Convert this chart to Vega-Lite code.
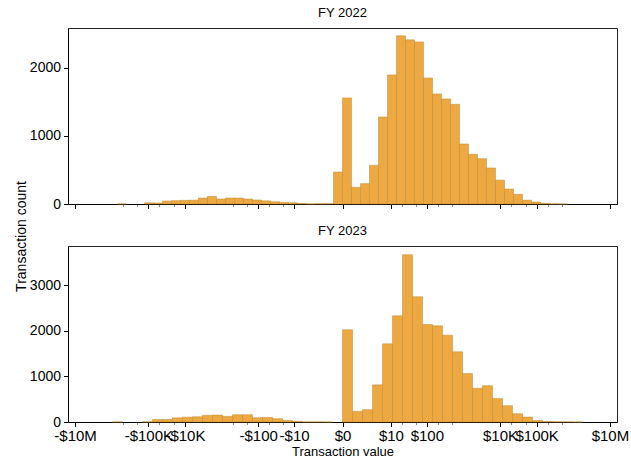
{
  "$schema": "https://vega.github.io/schema/vega-lite/v6.json",
  "padding": {"left": 13, "top": 6, "right": 5, "bottom": 5},
  "bounds": "flush",
  "config": {
    "font": "Liberation Sans",
    "view": {"stroke": "#222222", "strokeWidth": 1},
    "axis": {"grid": false, "domainColor": "#000000", "tickColor": "#000000", "labelColor": "#000000", "titleColor": "#000000", "labelFont": "Liberation Sans", "titleFont": "Liberation Sans", "titleFontWeight": "normal"},
    "title": {"font": "Liberation Sans", "fontSize": 13, "fontWeight": "normal", "color": "#000000", "offset": 8}
  },
  "datasets": {
    "fy22": [
      {"bin_start": -694586, "bin_end": -394471.5, "count": 2},
      {"bin_start": -127231.5, "bin_end": -72257.5, "count": 17},
      {"bin_start": -72257.5, "bin_end": -41036.5, "count": 15},
      {"bin_start": -41036.5, "bin_end": -23305.5, "count": 44},
      {"bin_start": -23305.5, "bin_end": -13235.5, "count": 49},
      {"bin_start": -13235.5, "bin_end": -7516.5, "count": 54},
      {"bin_start": -7516.5, "bin_end": -4268.7, "count": 56},
      {"bin_start": -4268.7, "bin_end": -2424.1, "count": 88},
      {"bin_start": -2424.1, "bin_end": -1376.5, "count": 110},
      {"bin_start": -1376.5, "bin_end": -781.5, "count": 74},
      {"bin_start": -781.5, "bin_end": -443.6, "count": 88},
      {"bin_start": -443.6, "bin_end": -251.72, "count": 88},
      {"bin_start": -251.72, "bin_end": -142.74, "count": 74},
      {"bin_start": -142.74, "bin_end": -80.85, "count": 59},
      {"bin_start": -80.85, "bin_end": -45.7, "count": 47},
      {"bin_start": -45.7, "bin_end": -25.74, "count": 34},
      {"bin_start": -25.74, "bin_end": -14.4, "count": 24},
      {"bin_start": -14.4, "bin_end": -7.963, "count": 18},
      {"bin_start": -7.963, "bin_end": -4.3063, "count": 9},
      {"bin_start": -4.3063, "bin_end": -2.2296, "count": 2},
      {"bin_start": -2.2296, "bin_end": -1.0502, "count": 5},
      {"bin_start": -1.0502, "bin_end": -0.3804, "count": 5},
      {"bin_start": -0.3804, "bin_end": 0, "count": 470},
      {"bin_start": 0, "bin_end": 0.3804, "count": 1558},
      {"bin_start": 0.3804, "bin_end": 1.0502, "count": 245},
      {"bin_start": 1.0502, "bin_end": 2.2296, "count": 299},
      {"bin_start": 2.2296, "bin_end": 4.3063, "count": 568},
      {"bin_start": 4.3063, "bin_end": 7.963, "count": 1279},
      {"bin_start": 7.963, "bin_end": 14.4, "count": 1896},
      {"bin_start": 14.4, "bin_end": 25.74, "count": 2470},
      {"bin_start": 25.74, "bin_end": 45.7, "count": 2411},
      {"bin_start": 45.7, "bin_end": 80.85, "count": 2381},
      {"bin_start": 80.85, "bin_end": 142.74, "count": 1852},
      {"bin_start": 142.74, "bin_end": 251.72, "count": 1617},
      {"bin_start": 251.72, "bin_end": 443.6, "count": 1544},
      {"bin_start": 443.6, "bin_end": 781.5, "count": 1465},
      {"bin_start": 781.5, "bin_end": 1376.5, "count": 882},
      {"bin_start": 1376.5, "bin_end": 2424.1, "count": 730},
      {"bin_start": 2424.1, "bin_end": 4268.7, "count": 666},
      {"bin_start": 4268.7, "bin_end": 7516.5, "count": 529},
      {"bin_start": 7516.5, "bin_end": 13235.5, "count": 350},
      {"bin_start": 13235.5, "bin_end": 23305.5, "count": 220},
      {"bin_start": 23305.5, "bin_end": 41036.5, "count": 142},
      {"bin_start": 41036.5, "bin_end": 72257.5, "count": 56},
      {"bin_start": 72257.5, "bin_end": 127231.5, "count": 29},
      {"bin_start": 127231.5, "bin_end": 224029.5, "count": 10},
      {"bin_start": 224029.5, "bin_end": 394471.5, "count": 3},
      {"bin_start": 394471.5, "bin_end": 694586, "count": 1}
    ],
    "fy23": [
      {"bin_start": -952616, "bin_end": -508014, "count": 3},
      {"bin_start": -144475, "bin_end": -77046, "count": 5},
      {"bin_start": -77046, "bin_end": -41087, "count": 55},
      {"bin_start": -41087, "bin_end": -21911, "count": 55},
      {"bin_start": -21911, "bin_end": -11684.5, "count": 92},
      {"bin_start": -11684.5, "bin_end": -6231, "count": 106},
      {"bin_start": -6231, "bin_end": -3322.6, "count": 115},
      {"bin_start": -3322.6, "bin_end": -1771.7, "count": 146},
      {"bin_start": -1771.7, "bin_end": -944.6, "count": 153},
      {"bin_start": -944.6, "bin_end": -503.49, "count": 124},
      {"bin_start": -503.49, "bin_end": -268.27, "count": 160},
      {"bin_start": -268.27, "bin_end": -142.83, "count": 160},
      {"bin_start": -142.83, "bin_end": -75.935, "count": 95},
      {"bin_start": -75.935, "bin_end": -40.262, "count": 102},
      {"bin_start": -40.262, "bin_end": -21.238, "count": 73},
      {"bin_start": -21.238, "bin_end": -11.092, "count": 37},
      {"bin_start": -11.092, "bin_end": -5.682, "count": 15},
      {"bin_start": -5.682, "bin_end": -2.7968, "count": 3},
      {"bin_start": -2.7968, "bin_end": -1.2581, "count": 3},
      {"bin_start": -1.2581, "bin_end": -0.4376, "count": 2},
      {"bin_start": 0, "bin_end": 0.4376, "count": 2022},
      {"bin_start": 0.4376, "bin_end": 1.2581, "count": 234},
      {"bin_start": 1.2581, "bin_end": 2.7968, "count": 271},
      {"bin_start": 2.7968, "bin_end": 5.682, "count": 815},
      {"bin_start": 5.682, "bin_end": 11.092, "count": 1715},
      {"bin_start": 11.092, "bin_end": 21.238, "count": 2328},
      {"bin_start": 21.238, "bin_end": 40.262, "count": 3669},
      {"bin_start": 40.262, "bin_end": 75.935, "count": 2747},
      {"bin_start": 75.935, "bin_end": 142.83, "count": 2138},
      {"bin_start": 142.83, "bin_end": 268.27, "count": 2109},
      {"bin_start": 268.27, "bin_end": 503.49, "count": 1904},
      {"bin_start": 503.49, "bin_end": 944.6, "count": 1540},
      {"bin_start": 944.6, "bin_end": 1771.7, "count": 1062},
      {"bin_start": 1771.7, "bin_end": 3322.6, "count": 740},
      {"bin_start": 3322.6, "bin_end": 6231, "count": 796},
      {"bin_start": 6231, "bin_end": 11684.5, "count": 515},
      {"bin_start": 11684.5, "bin_end": 21911, "count": 358},
      {"bin_start": 21911, "bin_end": 41087, "count": 182},
      {"bin_start": 41087, "bin_end": 77046, "count": 109},
      {"bin_start": 77046, "bin_end": 144475, "count": 34},
      {"bin_start": 144475, "bin_end": 270916, "count": 12},
      {"bin_start": 270916, "bin_end": 508014, "count": 6},
      {"bin_start": 508014, "bin_end": 952616, "count": 5},
      {"bin_start": 952616, "bin_end": 1786319, "count": 2}
    ]
  },
  "spacing": 42,
  "vconcat": [
    {
      "title": {"text": "FY 2022"},
      "width": 549,
      "height": 176,
      "data": {"name": "fy22"},
      "mark": {"type": "rect", "color": "#EEA842", "stroke": "#B8862E", "strokeWidth": 0.6, "strokeOpacity": 0.8},
      "encoding": {
        "x": {
          "field": "bin_start", "type": "quantitative",
          "scale": {"type": "symlog", "constant": 0.5, "domain": [-15600000, 15600000], "nice": false, "zero": false},
          "axis": {
            "title": null, "labels": false,
            "values": [-10000000, -500000, -200000, -100000, -50000, -20000, -10000, -500, -200, -100, -50, -20, -10, 0, 10, 20, 50, 100, 200, 500, 10000, 20000, 50000, 100000, 200000, 500000, 10000000],
            "tickSize": {"condition": {"test": "indexof([20,50,200,500,20000,50000,200000,500000], abs(datum.value)) >= 0", "value": 2.5}, "value": 4.5},
            "tickColor": {"condition": {"test": "indexof([20,50,200,500,20000,50000,200000,500000], abs(datum.value)) >= 0", "value": "#888888"}, "value": "#000000"}
          }
        },
        "x2": {"field": "bin_end"},
        "y": {
          "field": "count", "type": "quantitative",
          "scale": {"domain": [0, 2585], "nice": false},
          "axis": {"values": [0, 1000, 2000], "format": "d", "tickSize": 4.5, "labelFontSize": 14, "labelPadding": 3, "title": "Transaction count", "titleFontSize": 14, "titleX": -47, "titleY": 208, "titleBaseline": "middle", "titleAlign": "center"}
        },
        "y2": {"datum": 0}
      }
    },
    {
      "title": {"text": "FY 2023"},
      "width": 549,
      "height": 176,
      "data": {"name": "fy23"},
      "mark": {"type": "rect", "color": "#EEA842", "stroke": "#B8862E", "strokeWidth": 0.6, "strokeOpacity": 0.8},
      "encoding": {
        "x": {
          "field": "bin_start", "type": "quantitative",
          "scale": {"type": "symlog", "constant": 0.5, "domain": [-15600000, 15600000], "nice": false, "zero": false},
          "axis": {
            "title": "Transaction value", "titleFontSize": 13, "titlePadding": 2,
            "labelFontSize": 15, "labelOverlap": false, "labelFlush": false, "labelPadding": 2,
            "values": [-10000000, -500000, -200000, -100000, -50000, -20000, -10000, -500, -200, -100, -50, -20, -10, 0, 10, 20, 50, 100, 200, 500, 10000, 20000, 50000, 100000, 200000, 500000, 10000000],
            "labelExpr": "indexof([20,50,200,500,20000,50000,200000,500000], abs(datum.value)) >= 0 ? '' : (datum.value < 0 ? '-' : '') + '$' + replace(format(abs(datum.value), '~s'), 'k', 'K')",
            "tickSize": {"condition": {"test": "indexof([20,50,200,500,20000,50000,200000,500000], abs(datum.value)) >= 0", "value": 2.5}, "value": 4.5},
            "tickColor": {"condition": {"test": "indexof([20,50,200,500,20000,50000,200000,500000], abs(datum.value)) >= 0", "value": "#888888"}, "value": "#000000"}
          }
        },
        "x2": {"field": "bin_end"},
        "y": {
          "field": "count", "type": "quantitative",
          "scale": {"domain": [0, 3860], "nice": false},
          "axis": {"values": [0, 1000, 2000, 3000], "format": "d", "tickSize": 4.5, "labelFontSize": 14, "labelPadding": 3, "title": null}
        },
        "y2": {"datum": 0}
      }
    }
  ]
}
